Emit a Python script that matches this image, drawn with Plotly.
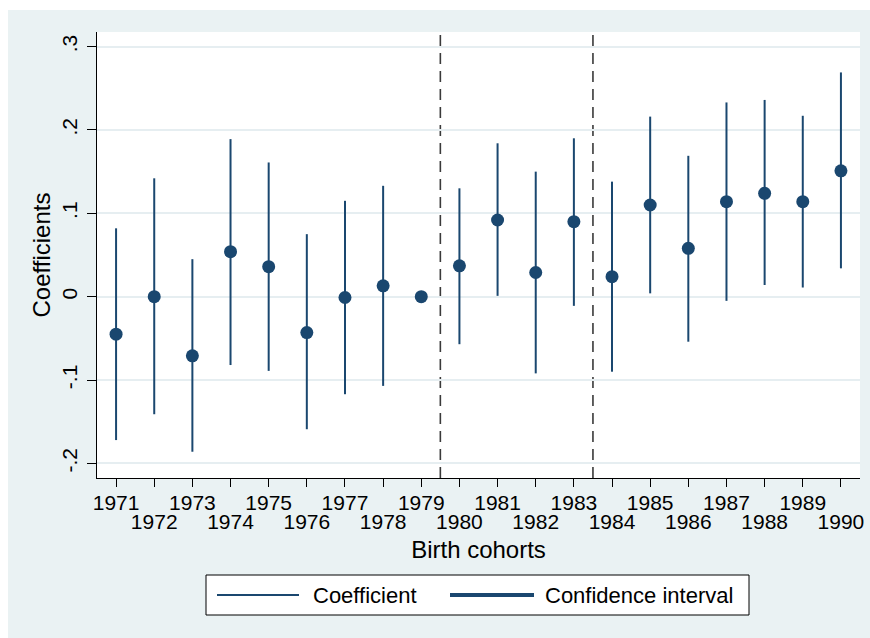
import plotly.graph_objects as go

# ---------------- data ----------------
years = [1971, 1972, 1973, 1974, 1975, 1976, 1977, 1978, 1979, 1980,
         1981, 1982, 1983, 1984, 1985, 1986, 1987, 1988, 1989, 1990]
coef = [-0.045, 0.000, -0.071, 0.054, 0.036, -0.043, -0.001, 0.013, 0.000, 0.037,
        0.092, 0.029, 0.090, 0.024, 0.110, 0.058, 0.114, 0.124, 0.114, 0.151]
ci_low = [-0.172, -0.141, -0.186, -0.082, -0.089, -0.159, -0.117, -0.107, 0.000, -0.057,
          0.001, -0.092, -0.011, -0.090, 0.004, -0.054, -0.005, 0.014, 0.011, 0.034]
ci_high = [0.082, 0.142, 0.045, 0.189, 0.161, 0.075, 0.115, 0.133, 0.000, 0.130,
           0.184, 0.150, 0.190, 0.138, 0.216, 0.169, 0.233, 0.236, 0.217, 0.269]
cutoffs = [1979.5, 1983.5]
y_tick_vals = [-0.2, -0.1, 0.0, 0.1, 0.2, 0.3]
y_tick_text = ["-.2", "-.1", "0", ".1", ".2", ".3"]
legend_labels = ["Coefficient", "Confidence interval"]

# ---------------- style ----------------
NAVY = "#1a476f"
BG = "#eaf2f3"
GRID = "#e6eef1"
DASH_COL = "#3a3a3a"
FONT = "Liberation Sans, Arial, Helvetica, sans-serif"
W, H = 870, 638
L, R, T, B = 97, 10, 32, 160
PW, PH = W - L - R, H - T - B


def px(x):
    return (x - L) / PW


def py(y):
    return (H - B - y) / PH


err_plus = [h - c for h, c in zip(ci_high, coef)]
err_minus = [c - l for c, l in zip(coef, ci_low)]

odd_years = years[0::2]
even_years = years[1::2]

fig = go.Figure()
fig.add_trace(go.Scatter(
    x=years, y=coef, mode="markers",
    marker=dict(size=13, color=NAVY),
    error_y=dict(type="data", symmetric=False, array=err_plus, arrayminus=err_minus,
                 width=0, thickness=2, color=NAVY),
    showlegend=False, hoverinfo="x+y",
))
# invisible trace so the second (lower-row label) axis is drawn
fig.add_trace(go.Scatter(
    x=even_years, y=coef[1::2], xaxis="x2", mode="markers",
    marker=dict(size=1, opacity=0), showlegend=False, hoverinfo="skip",
))

xrange = [1970.5, 1990.5]
tickfont = dict(family=FONT, size=21, color="black")
titlefont = dict(family=FONT, size=24, color="black")
legfont = dict(family=FONT, size=22, color="black")

shapes = []
# white strips outside the Stata-like graph region
shapes.append(dict(type="rect", xref="paper", yref="paper", x0=px(0), x1=px(W), y0=py(10), y1=py(0),
                   fillcolor="white", line=dict(width=0), layer="below"))
shapes.append(dict(type="rect", xref="paper", yref="paper", x0=px(0), x1=px(8), y0=py(H), y1=py(0),
                   fillcolor="white", line=dict(width=0), layer="below"))
# zero reference line
shapes.append(dict(type="line", xref="paper", yref="y", x0=0, x1=1, y0=0, y1=0,
                   line=dict(color=DASH_COL, width=1.6, dash="11px,7px"), layer="below"))
# cutoff lines
for c in cutoffs:
    shapes.append(dict(type="line", xref="x", yref="paper", x0=c, x1=c, y0=0, y1=1,
                       line=dict(color=DASH_COL, width=1.6, dash="11px,7px"), layer="below"))
# legend box and keys
shapes.append(dict(type="rect", xref="paper", yref="paper", x0=px(206), x1=px(749), y0=py(615), y1=py(575),
                   fillcolor="white", line=dict(color="black", width=1)))
shapes.append(dict(type="line", xref="paper", yref="paper", x0=px(217), x1=px(299), y0=py(595), y1=py(595),
                   line=dict(color=NAVY, width=2)))
shapes.append(dict(type="line", xref="paper", yref="paper", x0=px(450), x1=px(534), y0=py(595), y1=py(595),
                   line=dict(color=NAVY, width=4)))

annotations = [
    dict(text=legend_labels[0], xref="paper", yref="paper", x=px(311), y=py(595),
         xanchor="left", yanchor="middle", showarrow=False, font=legfont),
    dict(text=legend_labels[1], xref="paper", yref="paper", x=px(543), y=py(595),
         xanchor="left", yanchor="middle", showarrow=False, font=legfont),
]

fig.update_layout(
    width=W, height=H,
    margin=dict(l=L, r=R, t=T, b=B, pad=0),
    paper_bgcolor=BG, plot_bgcolor="white",
    font=dict(family=FONT, size=21, color="black"),
    showlegend=False,
    shapes=shapes, annotations=annotations,
    xaxis=dict(range=xrange, tickmode="array", tickvals=odd_years, ticktext=[str(y) for y in odd_years],
               ticks="outside", ticklen=8, tickwidth=1, tickcolor="black",
               showline=True, linecolor="black", linewidth=1, mirror=False,
               showgrid=False, zeroline=False, tickfont=tickfont, ticklabelstandoff=-2,
               automargin=False),
    xaxis2=dict(range=xrange, overlaying="x", anchor="y", side="bottom",
                tickmode="array", tickvals=even_years, ticktext=[str(y) for y in even_years],
                ticks="outside", ticklen=8, tickwidth=1, tickcolor="black",
                showline=False, showgrid=False, zeroline=False, tickfont=tickfont,
                ticklabelstandoff=17, automargin=False,
                title=dict(text="Birth cohorts", font=titlefont, standoff=8)),
    yaxis=dict(range=[-0.2175, 0.3175], tickmode="array", tickvals=y_tick_vals, ticktext=y_tick_text,
               tickangle=-90, ticks="outside", ticklen=9, tickwidth=1, tickcolor="black",
               showline=True, linecolor="black", linewidth=1,
               showgrid=True, gridcolor=GRID, gridwidth=1.5, zeroline=False,
               tickfont=tickfont, ticklabelstandoff=2, automargin=False,
               title=dict(text="Coefficients", font=titlefont, standoff=0)),
)

fig.write_html(
    "out.html",
    config={"displayModeBar": False},
    post_script="document.documentElement.style.margin='0';document.body.style.margin='0';"
                "document.body.style.overflow='hidden';",
)
